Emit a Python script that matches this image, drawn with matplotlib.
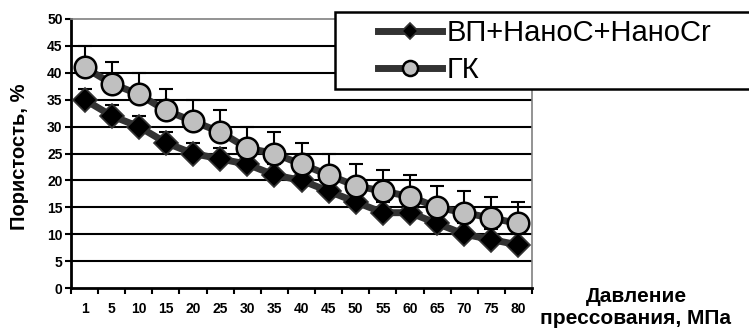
import matplotlib
matplotlib.use("Agg")
import matplotlib.pyplot as plt
from matplotlib.patches import Rectangle
import numpy as np

# ---------------------------------------------------------
# DATA
# ---------------------------------------------------------
pressure = ["1", "5", "10", "15", "20", "25", "30", "35", "40",
            "45", "50", "55", "60", "65", "70", "75", "80"]
vp_nano = [35, 32, 30, 27, 25, 24, 23, 21, 20, 18, 16, 14, 14, 12, 10, 9, 8]
vp_err = [2, 2, 2, 2, 2, 2, 2, 2, 2, 2, 2, 2, 2, 2, 2, 2, 2]
gk = [41, 38, 36, 33, 31, 29, 26, 25, 23, 21, 19, 18, 17, 15, 14, 13, 12]
gk_err = [4, 4, 4, 4, 4, 4, 4, 4, 4, 4, 4, 4, 4, 4, 4, 4, 4]

labels = ["ВП+НаноС+НаноCr", "ГК"]
y_ticks = [0, 5, 10, 15, 20, 25, 30, 35, 40, 45, 50]

plt.rcParams['font.family'] = ['Liberation Sans', 'DejaVu Sans']

W, H = 749, 331
fig = plt.figure(figsize=(W / 100, H / 100), dpi=100)
ax = fig.add_axes([71 / W, 1 - 288 / H, (532 - 71) / W, (288 - 19) / H])

x = np.arange(len(pressure))
line_col = "#333333"

# error bars (plus direction only)
ax.errorbar(x, vp_nano, yerr=[np.zeros(len(vp_err)), vp_err], fmt="none",
            ecolor="black", elinewidth=1.5, capsize=5, capthick=1.5, zorder=3)
ax.errorbar(x, gk, yerr=[np.zeros(len(gk_err)), gk_err], fmt="none",
            ecolor="black", elinewidth=1.5, capsize=5, capthick=1.5, zorder=5)

l1, = ax.plot(x, vp_nano, color=line_col, lw=5, marker="D", markersize=12,
              markerfacecolor="black", markeredgecolor="#333333",
              markeredgewidth=1.2, zorder=4, label=labels[0])
l2, = ax.plot(x, gk, color=line_col, lw=5, marker="o", markersize=15.5,
              markerfacecolor="#c0c0c0", markeredgecolor="black",
              markeredgewidth=1.8, zorder=6, label=labels[1])

ax.set_xlim(-0.5, len(pressure) - 0.5)
ax.set_ylim(0, 50)
ax.set_yticks(y_ticks)
ax.set_yticklabels([str(v) for v in y_ticks], fontsize=10, fontweight="bold")
ax.set_xticks(x)
ax.set_xticklabels(pressure, fontsize=10, fontweight="bold")
ax.tick_params(axis="x", length=0, pad=10)
ax.set_xticks(np.arange(-0.5, len(pressure)), minor=True)
ax.tick_params(axis="x", which="minor", length=4, width=1.5, direction="out")
ax.tick_params(axis="y", length=4, width=1.5, direction="out", pad=2)

for v in y_ticks[1:-1]:
    ax.axhline(v, color="black", lw=1.5, zorder=1)

ax.spines["left"].set_linewidth(2)
ax.spines["bottom"].set_linewidth(2)
ax.spines["right"].set_color("#808080")
ax.spines["right"].set_linewidth(1.2)
ax.spines["top"].set_color("#808080")
ax.spines["top"].set_linewidth(1.2)

fig.text(20 / W, 1 - 157 / H, "Пористость, %", rotation=90, ha="center",
         va="center", fontsize=14.5, fontweight="bold")
fig.text(636 / W, 1 - 307 / H, "Давление\nпрессования, МПа", ha="center",
         va="center", fontsize=15, fontweight="bold", linespacing=1.2)

# legend box (white, square) that runs off the right edge
box = Rectangle((335 / W, 1 - 89 / H), (W + 20 - 335) / W, (89 - 12) / H,
                transform=fig.transFigure, facecolor="white",
                edgecolor="black", lw=1.8, zorder=9)
fig.add_artist(box)

leg = fig.legend(handles=[l1, l2], loc="upper left",
                 bbox_to_anchor=(378 / W, 1 - 19 / H),
                 fontsize=21, frameon=False, markerscale=0.7,
                 handlelength=2.2, handletextpad=0.15, borderaxespad=0,
                 labelspacing=0.3, borderpad=0)
leg.set_zorder(10)

fig.savefig("out.png", dpi=100)
